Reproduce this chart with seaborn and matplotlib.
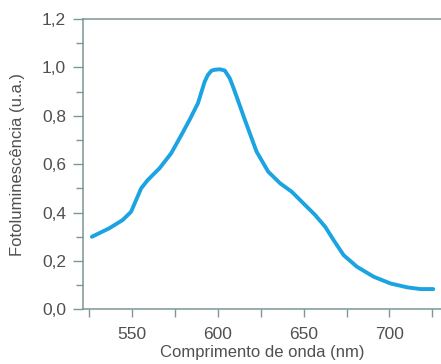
import matplotlib
matplotlib.use("Agg")
import matplotlib.pyplot as plt
import seaborn as sns
import pandas as pd
from matplotlib.ticker import MultipleLocator, FixedLocator, FixedFormatter

wavelength = [526.7, 536.8, 544.6, 549.5, 552.5, 555.4, 559.2, 566.1, 572.9, 578.8,
              583.6, 588.5, 592.4, 594.3, 596.3, 598.2, 601.2, 604.1, 607.0, 609.0,
              611.0, 615.8, 622.6, 629.4, 636.3, 643.1, 649.9, 656.7, 662.6, 667.4,
              673.3, 681.1, 690.8, 700.6, 710.4, 718.1, 725.5]
intensity = [0.300, 0.335, 0.369, 0.403, 0.452, 0.500, 0.534, 0.583, 0.645, 0.720,
             0.783, 0.852, 0.941, 0.969, 0.986, 0.990, 0.992, 0.987, 0.955, 0.918,
             0.879, 0.783, 0.652, 0.569, 0.521, 0.486, 0.438, 0.390, 0.341, 0.287,
             0.224, 0.176, 0.135, 0.107, 0.091, 0.084, 0.084]

y_ticks = [0.0, 0.2, 0.4, 0.6, 0.8, 1.0, 1.2]
y_tick_labels = ["0,0", "0,2", "0,4", "0,6", "0,8", "1,0", "1,2"]
x_ticks = [550, 600, 650, 700]
x_tick_labels = ["550", "600", "650", "700"]

df = pd.DataFrame({"wl": wavelength, "pl": intensity})

sns.set_style("white")
plt.rcParams["font.family"] = ["Liberation Sans", "DejaVu Sans"]

text_c = "#505050"
spine_c = "#7d9696"

fig = plt.figure(figsize=(4.41, 3.64), dpi=100)
ax = fig.add_axes([0.188, 0.150, 0.812, 0.798])

sns.lineplot(data=df, x="wl", y="pl", ax=ax, color="#1ba3e2", linewidth=2.8,
             solid_capstyle="round", solid_joinstyle="round")

ax.set_xlim(521.5, 730)
ax.set_ylim(0, 1.2)

ax.yaxis.set_major_locator(FixedLocator(y_ticks))
ax.yaxis.set_major_formatter(FixedFormatter(y_tick_labels))
ax.yaxis.set_minor_locator(MultipleLocator(0.1))
ax.xaxis.set_major_locator(FixedLocator(x_ticks))
ax.xaxis.set_major_formatter(FixedFormatter(x_tick_labels))
ax.xaxis.set_minor_locator(FixedLocator([525, 575, 625, 675, 725]))

for s in ["left", "top", "bottom"]:
    ax.spines[s].set_visible(True)
    ax.spines[s].set_color(spine_c)
    ax.spines[s].set_linewidth(1.1)
ax.spines["right"].set_visible(False)

ax.tick_params(axis="both", which="both", direction="out", color=spine_c, width=1.0,
               labelcolor=text_c, labelsize=12.5, left=True, bottom=True)
ax.tick_params(axis="y", which="major", length=7, pad=5)
ax.tick_params(axis="y", which="minor", length=5)
ax.tick_params(axis="x", which="major", length=6, pad=7)
ax.tick_params(axis="x", which="minor", length=6)

ax.set_xlabel("Comprimento de onda (nm)", fontsize=12, color=text_c, labelpad=2)
ax.set_ylabel("Fotoluminescência (u.a.)", fontsize=12, color=text_c, labelpad=12)
ax.grid(False)

fig.savefig("out.png", dpi=100)
